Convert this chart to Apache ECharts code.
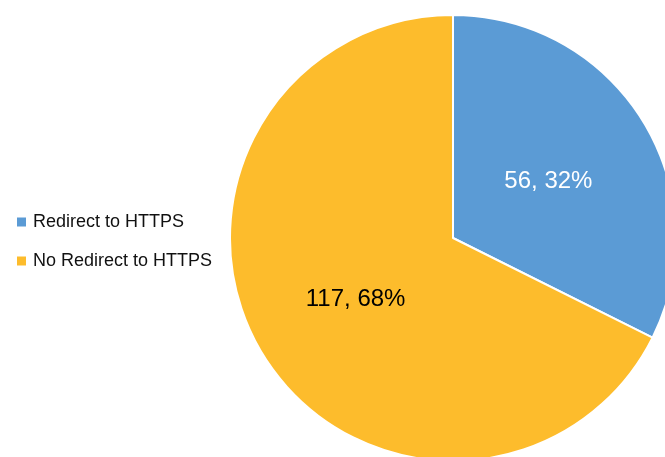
<!DOCTYPE html>
<html>
<head>
<meta charset="utf-8">
<script src="https://cdn.jsdelivr.net/npm/echarts@6/dist/echarts.min.js"></script>
<style>
  html, body { margin: 0; padding: 0; background: #fff; }
  #main { width: 665px; height: 457px; }
</style>
</head>
<body>
<div id="main"></div>
<script>
    // 数据
    let categories = ['Redirect to HTTPS', 'No Redirect to HTTPS'];
    let values = [56, 117];
    let colors = ['#5b9bd5', '#fdbc2c'];
    let labelColors = ['#ffffff', '#000000'];
    let labelOffsets = [[-2, 4], [0, 1]];

    let chart = echarts.init(document.getElementById('main'));

    let total = values.reduce((a, b) => a + b, 0);
    let pieData = categories.map((name, i) => ({
        name: name,
        value: values[i],
        itemStyle: { color: colors[i] },
        label: { color: labelColors[i], offset: labelOffsets[i] }
    }));

    let option = {
        animation: false,
        textStyle: { fontFamily: 'Liberation Sans, Arial, sans-serif' },
        legend: {
            orient: 'vertical',
            left: 12,
            top: 208,
            itemWidth: 9,
            itemHeight: 9,
            itemGap: 21,
            icon: 'rect',
            itemStyle: { borderWidth: 0 },
            textStyle: { fontSize: 18, color: '#111', padding: [0, 0, 0, 2] },
            data: categories
        },
        series: [
            {
                type: 'pie',
                center: [453, 238],
                radius: [0, 223],
                startAngle: 90,
                clockwise: true,
                avoidLabelOverlap: false,
                itemStyle: { borderColor: '#fff', borderWidth: 2 },
                label: {
                    show: true,
                    position: 'inside',
                    fontSize: 24,
                    formatter: function (p) {
                        return p.value + ', ' + Math.round(p.value / total * 100) + '%';
                    }
                },
                labelLine: { show: false },
                data: pieData
            }
        ]
    };

    chart.setOption(option);
</script>
</body>
</html>
